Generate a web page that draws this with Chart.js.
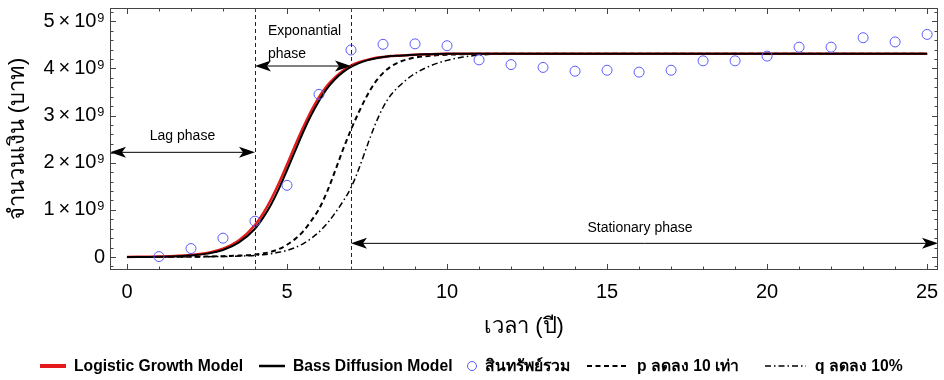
<!DOCTYPE html>
<html>
<head>
<meta charset="utf-8">
<script src="https://cdn.jsdelivr.net/npm/chart.js@4.4.1/dist/chart.umd.min.js"></script>
<style>
  html, body { margin: 0; padding: 0; background: #fff; }
</style>
</head>
<body>
<canvas id="chart" width="944" height="380"></canvas>
<script>
// ข้อมูลที่อ่านจากกราฟ (หน่วย: บาท)
const curveYears = [0, 1, 2, 2.5, 3, 3.5, 4, 4.25, 4.5, 4.75, 5, 5.25, 5.5, 5.75, 6, 6.25, 6.5, 6.75,
  7, 7.25, 7.5, 7.75, 8, 8.25, 8.5, 8.75, 9, 9.5, 10, 10.5, 11, 12, 14, 25];
const logisticModel = [0.002, 0.009, 0.041, 0.085, 0.175, 0.354, 0.68, 0.92, 1.22, 1.57, 1.96, 2.36, 2.74, 3.09,
  3.39, 3.63, 3.81, 3.95, 4.06, 4.13, 4.18, 4.22, 4.24, 4.26, 4.27, 4.28, 4.29, 4.30, 4.31, 4.31, 4.31, 4.31, 4.31, 4.31];
const bassModel = [0, 0.006, 0.033, 0.072, 0.148, 0.31, 0.60, 0.83, 1.11, 1.45, 1.84, 2.24, 2.64, 3.00,
  3.31, 3.57, 3.77, 3.92, 4.03, 4.11, 4.17, 4.21, 4.24, 4.26, 4.27, 4.28, 4.29, 4.30, 4.31, 4.31, 4.31, 4.31, 4.31, 4.31];
const pDown10x = [0, 0.002, 0.006, 0.01, 0.018, 0.03, 0.05, 0.075, 0.11, 0.17, 0.26, 0.38, 0.54, 0.76,
  1.02, 1.38, 1.82, 2.28, 2.70, 3.08, 3.42, 3.70, 3.90, 4.04, 4.13, 4.19, 4.23, 4.27, 4.29, 4.30, 4.31, 4.31, 4.31, 4.31];
const qDown10pct = [0, 0.001, 0.004, 0.007, 0.012, 0.02, 0.035, 0.05, 0.07, 0.10, 0.14, 0.20, 0.28, 0.39,
  0.53, 0.71, 0.93, 1.18, 1.47, 1.88, 2.35, 2.80, 3.17, 3.44, 3.62, 3.77, 3.89, 4.06, 4.17, 4.24, 4.28, 4.31, 4.31, 4.31];

const assetYears = [1, 2, 3, 4, 5, 6, 7, 8, 9, 10, 11, 12, 13, 14, 15, 16, 17, 18, 19, 20, 21, 22, 23, 24, 25];
const totalAssets = [0.01, 0.18, 0.40, 0.76, 1.52, 3.45, 4.39, 4.51, 4.52, 4.48, 4.18, 4.08, 4.02, 3.94, 3.96,
  3.92, 3.96, 4.16, 4.16, 4.26, 4.45, 4.45, 4.65, 4.56, 4.72];

const seriesNames = ["Logistic Growth Model", "Bass Diffusion Model", "สินทรัพย์รวม", "p ลดลง 10 เท่า", "q ลดลง 10%"];

const xTickValues = [0, 5, 10, 15, 20, 25];
const xTickLabels = ["0", "5", "10", "15", "20", "25"];
const yTickValues = [0, 1e9, 2e9, 3e9, 4e9, 5e9];
const yTickLabels = ["0", "1\u2009×\u200910⁹", "2\u2009×\u200910⁹", "3\u2009×\u200910⁹", "4\u2009×\u200910⁹", "5\u2009×\u200910⁹"];

const phaseBounds = [4, 7];
const phaseLabels = ["Lag phase", "Exponantial", "phase", "Stationary phase"];

const B = 1e9;
function pts(xs, ys) {
  return xs.map((x, i) => ({ x: x, y: ys[i] * B }));
}

// กรอบและขีดแบบ Mathematica
const frameTicks = {
  id: "frameTicks",
  afterDraw(chart) {
    const { ctx, chartArea: a, scales: { x, y } } = chart;
    ctx.save();
    ctx.strokeStyle = "#444";
    ctx.lineWidth = 1;
    ctx.strokeRect(a.left + 0.5, a.top + 0.5, a.right - a.left - 1, a.bottom - a.top - 1);
    ctx.beginPath();
    for (let v = 0; v <= 25; v++) {
      const px = Math.round(x.getPixelForValue(v)) + 0.5;
      const len = v % 5 === 0 ? 6 : 3.5;
      ctx.moveTo(px, a.bottom); ctx.lineTo(px, a.bottom - len);
      ctx.moveTo(px, a.top); ctx.lineTo(px, a.top + len);
    }
    for (let k = -1; k <= 26; k++) {
      const v = k * 0.2e9;
      const py = Math.round(y.getPixelForValue(v)) + 0.5;
      if (py < a.top || py > a.bottom) continue;
      const len = k % 5 === 0 ? 6 : 3.5;
      ctx.moveTo(a.left, py); ctx.lineTo(a.left + len, py);
      ctx.moveTo(a.right, py); ctx.lineTo(a.right - len, py);
    }
    ctx.stroke();
    ctx.restore();
  }
};

function arrowHead(ctx, x, y, dir) {
  ctx.beginPath();
  ctx.moveTo(x, y);
  ctx.lineTo(x - dir * 16, y - 5.5);
  ctx.lineTo(x - dir * 12, y);
  ctx.lineTo(x - dir * 16, y + 5.5);
  ctx.closePath();
  ctx.fill();
}

function doubleArrow(ctx, x1, x2, y) {
  ctx.beginPath();
  ctx.moveTo(x1 + 4, y); ctx.lineTo(x2 - 4, y);
  ctx.stroke();
  arrowHead(ctx, x1, y, -1);
  arrowHead(ctx, x2, y, 1);
}

// เส้นแบ่งช่วงและลูกศร
const phases = {
  id: "phases",
  afterDatasetsDraw(chart) {
    const { ctx, chartArea: a, scales: { x, y } } = chart;
    const x4 = x.getPixelForValue(phaseBounds[0]);
    const x7 = x.getPixelForValue(phaseBounds[1]);
    ctx.save();
    ctx.strokeStyle = "#222";
    ctx.lineWidth = 1;
    ctx.setLineDash([4, 3]);
    ctx.beginPath();
    ctx.moveTo(Math.round(x4) + 0.5, a.top); ctx.lineTo(Math.round(x4) + 0.5, a.bottom);
    ctx.moveTo(Math.round(x7) + 0.5, a.top); ctx.lineTo(Math.round(x7) + 0.5, a.bottom);
    ctx.stroke();
    ctx.setLineDash([]);
    ctx.fillStyle = "#000";
    ctx.strokeStyle = "#000";
    doubleArrow(ctx, a.left, x4, y.getPixelForValue(2.22e9));
    doubleArrow(ctx, x4, x7, y.getPixelForValue(4.05e9));
    doubleArrow(ctx, x7, a.right, y.getPixelForValue(0.29e9));

    ctx.font = "14px 'Liberation Sans', Arial, sans-serif";
    ctx.textBaseline = "middle";
    ctx.textAlign = "center";
    ctx.fillText(phaseLabels[0], (a.left + x4) / 2, y.getPixelForValue(2.22e9) - 16);
    ctx.fillText(phaseLabels[3], 640, y.getPixelForValue(0.29e9) - 15);
    ctx.textAlign = "left";
    ctx.fillText(phaseLabels[1], x4 + 13, 31);
    ctx.fillText(phaseLabels[2], x4 + 13, 54);
    ctx.restore();
  }
};

// คำอธิบายสัญลักษณ์ด้านล่าง
const bottomLegend = {
  id: "bottomLegend",
  afterDraw(chart) {
    const { ctx } = chart;
    const yy = 366;
    const items = [
      { kind: "line", color: "#e41a1c", w: 4, dash: [], x0: 40, x1: 66, tx: 74 },
      { kind: "line", color: "#000", w: 2.5, dash: [], x0: 259, x1: 285, tx: 293 },
      { kind: "circle", color: "#5a5aff", x0: 472, tx: 485 },
      { kind: "line", color: "#000", w: 2, dash: [5, 3.5], x0: 587, x1: 629, tx: 637 },
      { kind: "line", color: "#000", w: 1.5, dash: [6, 3, 1.5, 3], x0: 765, x1: 806, tx: 815 }
    ];
    ctx.save();
    items.forEach((it, i) => {
      ctx.strokeStyle = it.color;
      if (it.kind === "line") {
        ctx.lineWidth = it.w;
        ctx.setLineDash(it.dash);
        ctx.beginPath();
        ctx.moveTo(it.x0, yy); ctx.lineTo(it.x1, yy);
        ctx.stroke();
      } else {
        ctx.lineWidth = 1;
        ctx.setLineDash([]);
        ctx.beginPath();
        ctx.arc(it.x0, yy, 4.5, 0, Math.PI * 2);
        ctx.stroke();
      }
      ctx.setLineDash([]);
      ctx.fillStyle = "#000";
      ctx.font = "bold 15.7px 'Liberation Sans', Arial, sans-serif";
      ctx.textBaseline = "middle";
      ctx.textAlign = "left";
      ctx.fillText(seriesNames[i], it.tx, yy + 1);
    });
    ctx.restore();
  }
};

const ctx = document.getElementById("chart").getContext("2d");
const chart = new Chart(ctx, {
  type: "scatter",
  data: {
    datasets: [
      {
        label: seriesNames[2],
        data: pts(assetYears, totalAssets),
        showLine: false,
        pointStyle: "circle",
        pointRadius: 5,
        pointBorderWidth: 1,
        pointBorderColor: "#5a5aff",
        pointBackgroundColor: "rgba(0,0,0,0)",
        order: 0
      },
      {
        label: seriesNames[1],
        data: pts(curveYears, bassModel),
        showLine: true,
        borderColor: "#000",
        borderWidth: 2,
        pointRadius: 0,
        cubicInterpolationMode: "monotone",
        order: 1
      },
      {
        label: seriesNames[0],
        data: pts(curveYears, logisticModel),
        showLine: true,
        borderColor: "#e41a1c",
        borderWidth: 2.5,
        pointRadius: 0,
        cubicInterpolationMode: "monotone",
        order: 2
      },
      {
        label: seriesNames[3],
        data: pts(curveYears, pDown10x),
        showLine: true,
        borderColor: "#000",
        borderWidth: 2,
        borderDash: [5, 3.5],
        pointRadius: 0,
        cubicInterpolationMode: "monotone",
        order: 3
      },
      {
        label: seriesNames[4],
        data: pts(curveYears, qDown10pct),
        showLine: true,
        borderColor: "#000",
        borderWidth: 1.5,
        borderDash: [6, 3, 1.5, 3],
        pointRadius: 0,
        cubicInterpolationMode: "monotone",
        order: 4
      }
    ]
  },
  options: {
    responsive: false,
    animation: false,
    devicePixelRatio: 1,
    layout: { padding: { left: 0, right: 3, top: 8, bottom: 30 } },
    plugins: {
      legend: { display: false },
      tooltip: { enabled: false }
    },
    scales: {
      x: {
        type: "linear",
        min: -0.53,
        max: 25.34,
        afterBuildTicks: (s) => { s.ticks = xTickValues.map(v => ({ value: v })); },
        afterFit: (s) => { s.height = 80; s.paddingLeft = 0; s.paddingRight = 0; },
        grid: { display: false, drawTicks: false },
        border: { display: false },
        ticks: {
          padding: 10,
          color: "#000",
          font: { family: "'Liberation Sans', Arial, sans-serif", size: 20 },
          maxRotation: 0,
          callback: (v, i) => xTickLabels[i]
        },
        title: {
          display: true,
          text: "เวลา (ปี)",
          color: "#000",
          font: { family: "'Liberation Sans', Arial, sans-serif", size: 22 },
          padding: { top: 0, bottom: 10 }
        }
      },
      y: {
        type: "linear",
        min: -0.275e9,
        max: 5.28e9,
        afterBuildTicks: (s) => { s.ticks = yTickValues.map(v => ({ value: v })); },
        afterFit: (s) => { s.width = 110; s.paddingTop = 0; s.paddingBottom = 0; },
        grid: { display: false, drawTicks: false },
        border: { display: false },
        ticks: {
          padding: 5,
          color: "#000",
          font: { family: "'Liberation Sans', Arial, sans-serif", size: 20 },
          callback: (v, i) => yTickLabels[i]
        },
        title: {
          display: true,
          text: "จำนวนเงิน (บาท)",
          color: "#000",
          font: { family: "'Liberation Sans', Arial, sans-serif", size: 22 },
          padding: { top: 5, bottom: 0 }
        }
      }
    }
  },
  plugins: [frameTicks, phases, bottomLegend]
});
</script>
</body>
</html>
